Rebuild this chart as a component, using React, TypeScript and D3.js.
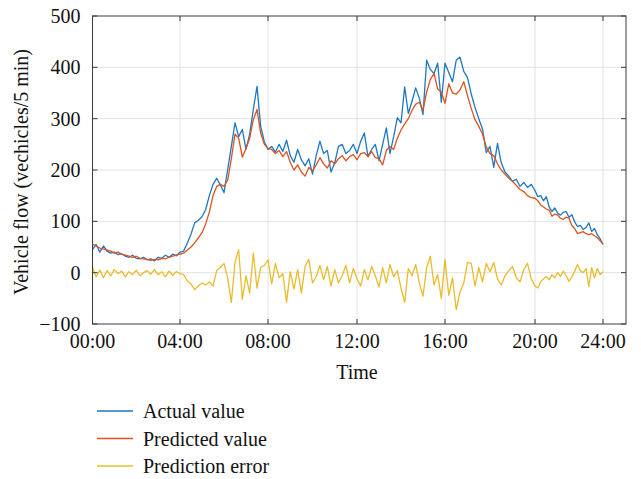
import React from "react";
import * as d3 from "d3";

// 10-minute samples, 00:00 .. 24:00
const actual = [
  45, 55, 40, 52, 42, 38, 40, 35, 37, 32,
  30, 34, 28, 27, 30, 25, 27, 23, 30, 28,
  34, 30, 36, 33, 40, 42, 58, 75, 97, 102,
  109, 123, 150, 172, 184, 171, 156, 201, 246, 292,
  265, 279, 240, 270, 318, 363, 285, 255, 240, 246,
  235, 250, 236, 258, 228, 215, 240, 220, 208, 222,
  192, 228, 256, 232, 238, 196, 214, 246, 250, 232,
  238, 250, 232, 256, 272, 226, 240, 250, 218, 250,
  282, 232, 265, 302, 292, 362, 310, 334, 360, 340,
  308, 414, 396, 388, 408, 332, 408, 390, 372, 414,
  420, 392, 380, 348, 322, 300, 280, 234, 246, 205,
  252, 214, 196, 188, 178, 182, 168, 176, 166, 172,
  160, 148, 150, 140, 148, 128, 119, 126, 116, 112,
  118, 119, 108, 113, 99, 90, 92, 84, 88, 97,
  80, 86, 74, 66, 55,
];

const predicted = [
  55, 52, 48, 46, 44, 42, 38, 40, 36, 34,
  32, 30, 32, 28, 27, 26, 24, 26, 25, 28,
  27, 30, 32, 34, 36, 38, 44, 50, 58, 68,
  78, 95, 118, 150, 168, 172, 168, 180, 222, 270,
  262, 225, 242, 262, 298, 318, 272, 250, 242, 240,
  232, 238, 226, 236, 215, 200, 210, 196, 188, 205,
  198, 210, 224, 212, 204, 218, 212, 222, 228, 218,
  226, 230, 220, 232, 234, 226, 236, 224, 222, 210,
  238, 246, 240, 262, 278, 290, 300, 316, 328, 332,
  316, 352, 376, 388, 358, 352, 330, 368, 350, 348,
  356, 372, 345, 320, 298, 285, 270, 245, 232, 228,
  212, 200, 192, 184, 178, 170, 162, 158, 150, 146,
  145, 140, 132, 128, 124, 122, 110, 114, 112, 106,
  104, 108, 106, 92, 86, 76, 78, 80, 76, 74,
  76, 72, 68, 62, 56,
];

const predError = [
  10, -8, 5, -10, 4, -6, 6, -2, 3, -8,
  2, -4, 5, -6, 0, 4, -3, 6, -4, 2,
  -8, 3, -5, 2, -2, -4, -16, -22, -33, -26,
  -20, -24, -18, -26, 4, 10, 18, -10, -58, 20,
  45, -52, -6, -40, 38, -30, 10, 14, 25, -22,
  18, -10, -2, -58, 2, -32, 6, -40, 12, 26,
  -20, -8, 14, -14, 12, -26, 6, -20, -6, 14,
  -20, 8, -12, -26, 6, -14, 12, -6, -28, 10,
  -20, 16, -8, 4, -30, -58, 8, -6, 16, -20,
  -46, 10, 32, -24, -4, -50, 26, -44, -10, -72,
  -38, -20, 20, 18, -26, 10, -18, 18, 2, 20,
  -12, -24, -6, 4, 12, -10, -18, 6, 18, -12,
  -26, -30, -18, -12, -8, -14, -4, -10, 0, -7,
  3, -6, -17, -8, 3, 16, 4, 0, 8, -27,
  10, -10, 8, -4, 2,
];

const hourTicks = [0, 4, 8, 12, 16, 20, 24];
const hourLabels = ["00:00", "04:00", "08:00", "12:00", "16:00", "20:00", "24:00"];
const yTicks = [-100, 0, 100, 200, 300, 400, 500];

const legendItems = ["Actual value", "Predicted value", "Prediction error"];
const colors = ["#1f77bf", "#d9541f", "#e8bc2c"];

const W = 641;
const H = 479;
const font = "'Liberation Serif', 'Times New Roman', serif";

export default function App() {
  // the time axis of the original is squeezed after 20:00
  const x = d3
    .scaleLinear()
    .domain([0, 4, 8, 12, 16, 20, 24, 25.35])
    .range([92.5, 180, 268, 357, 445, 535, 603, 626]);
  const y = d3.scaleLinear().domain([-100, 500]).range([324, 16]);

  const line = d3
    .line<number>()
    .x((_, i) => x(i / 6))
    .y((d) => y(d));

  const [x0, x1] = [x(0), x(25.35)];
  const [y0, y1] = [y(-100), y(500)];
  const series = [actual, predicted, predError];

  return (
    <svg
      width={W}
      height={H}
      style={{ position: "absolute", left: 0, top: 0, background: "#fff" }}
      fontFamily={font}
    >
      {/* grid */}
      <g stroke="#e2e2e2" strokeWidth={1}>
        {yTicks.slice(1, -1).map((t) => (
          <line key={"gy" + t} x1={x0} x2={x1} y1={y(t)} y2={y(t)} />
        ))}
        {hourTicks.slice(1).map((t) => (
          <line key={"gx" + t} x1={x(t)} x2={x(t)} y1={y0} y2={y1} />
        ))}
      </g>

      {/* series */}
      {series.map((s, k) => (
        <path key={k} d={line(s) ?? ""} fill="none" stroke={colors[k]} strokeWidth={1.3} strokeLinejoin="round" />
      ))}

      {/* frame and ticks */}
      <rect x={x0} y={y1} width={x1 - x0} height={y0 - y1} fill="none" stroke="#3a3a3a" strokeWidth={1} />
      <g stroke="#3a3a3a" strokeWidth={1}>
        {yTicks.map((t) => (
          <g key={"ty" + t}>
            <line x1={x0} x2={x0 + 5} y1={y(t)} y2={y(t)} />
            <line x1={x1} x2={x1 - 5} y1={y(t)} y2={y(t)} />
          </g>
        ))}
        {hourTicks.map((t) => (
          <g key={"tx" + t}>
            <line x1={x(t)} x2={x(t)} y1={y0} y2={y0 - 5} />
            <line x1={x(t)} x2={x(t)} y1={y1} y2={y1 + 5} />
          </g>
        ))}
      </g>

      {/* tick labels */}
      <g fontSize={20} fill="#111">
        {yTicks.map((t) => (
          <text key={"ly" + t} x={x0 - 12} y={y(t)} dy="0.35em" textAnchor="end">
            {t < 0 ? "\u2212" + Math.abs(t) : t}
          </text>
        ))}
        {hourTicks.map((t, i) => (
          <text key={"lx" + t} x={x(t)} y={348} textAnchor="middle">
            {hourLabels[i]}
          </text>
        ))}
        <text x={357} y={379} textAnchor="middle">
          Time
        </text>
        <text transform="translate(28,172) rotate(-90)" textAnchor="middle">
          Vehicle flow (vechicles/5 min)
        </text>
      </g>

      {/* legend */}
      <g fontSize={20} fill="#111">
        {legendItems.map((name, i) => (
          <g key={name} transform={`translate(0,${411 + i * 27.5})`}>
            <line x1={97} x2={133} y1={0} y2={0} stroke={colors[i]} strokeWidth={1.4} />
            <text x={143} y={0} dy="0.35em">
              {name}
            </text>
          </g>
        ))}
      </g>
    </svg>
  );
}
